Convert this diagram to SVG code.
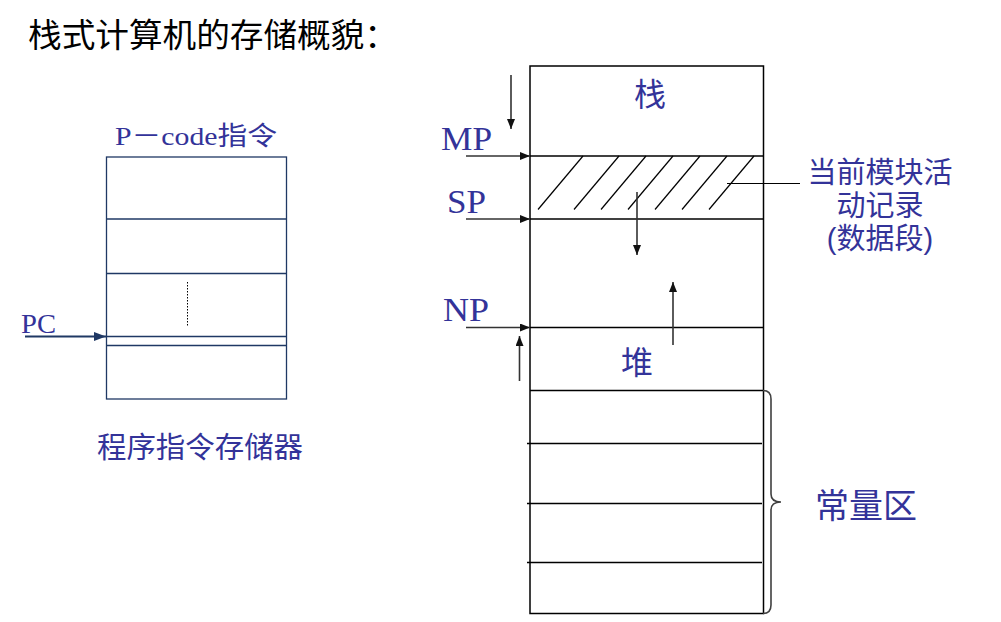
<svg xmlns="http://www.w3.org/2000/svg" width="1001" height="622" viewBox="0 0 1001 622">
<style>
.cjk{font-family:"Noto Sans CJK SC",sans-serif;fill:#333399}
.cjk2{font-family:"Liberation Sans","Noto Sans CJK SC",sans-serif;fill:#333399}
.lat{font-family:"Liberation Serif","Noto Sans CJK SC",serif;fill:#333399}
.title{font-family:"Noto Sans CJK SC",sans-serif;fill:#000;font-size:33px}
.box{fill:#fff;stroke:#000;stroke-width:1.5}
.lbox{fill:#fff;stroke:#1F3864;stroke-width:1.3}
.ln{stroke:#000;stroke-width:1.5;fill:none}
.lln{stroke:#1F3864;stroke-width:1.3;fill:none}
.hatch{stroke:#000;stroke-width:1.2}
.arr{stroke:#333;stroke-width:1.6;fill:none;marker-end:url(#ah)}
</style>
<defs>
<marker id="ah" markerUnits="userSpaceOnUse" markerWidth="10" markerHeight="8" refX="10" refY="4" orient="auto">
<path d="M0,0 L10,4 L0,8 z" fill="#111"/>
</marker>
<marker id="ahb" markerUnits="userSpaceOnUse" markerWidth="12" markerHeight="9" refX="12" refY="4.5" orient="auto">
<path d="M0,0 L12,4.5 L0,9 z" fill="#1F3864"/>
</marker>
</defs>
<rect width="1001" height="622" fill="#fff"/>

<g id="title">
<text class="title" x="28" y="47" textLength="370" lengthAdjust="spacingAndGlyphs">栈式计算机的存储概貌：</text>
</g>

<g id="pcode-memory">
<text class="lat" x="115" y="145" font-size="26" textLength="162" lengthAdjust="spacingAndGlyphs">P－code指令</text>
<rect class="lbox" x="106.5" y="157" width="180" height="242"/>
<line class="lln" x1="106.5" y1="219" x2="286.5" y2="219"/>
<line class="lln" x1="106.5" y1="273.5" x2="286.5" y2="273.5"/>
<line class="lln" x1="106.5" y1="336.5" x2="286.5" y2="336.5"/>
<line class="lln" x1="106.5" y1="345.5" x2="286.5" y2="345.5"/>
<line x1="187.5" y1="282" x2="187.5" y2="327" stroke="#000" stroke-width="1" stroke-dasharray="1.5,1.5"/>
<text class="cjk" x="97" y="458" font-size="29" textLength="206" lengthAdjust="spacingAndGlyphs">程序指令存储器</text>
</g>

<g id="pc-label">
<text class="lat" x="21" y="333" font-size="28" textLength="35" lengthAdjust="spacingAndGlyphs">PC</text>
</g>

<g id="stack-memory">
<rect class="box" x="530" y="66" width="233.5" height="547.5"/>
<line class="ln" x1="530" y1="156" x2="763.5" y2="156"/>
<line class="ln" x1="530" y1="219" x2="763.5" y2="219"/>
<line class="ln" x1="530" y1="327.5" x2="763.5" y2="327.5"/>
<line class="ln" x1="530" y1="390.5" x2="763.5" y2="390.5"/>
<line class="ln" x1="527" y1="443.5" x2="762" y2="443.5"/>
<line class="ln" x1="527" y1="503.5" x2="762" y2="503.5"/>
<line class="ln" x1="527" y1="562.5" x2="762" y2="562.5"/>
<g id="hatch">
<line class="hatch" x1="538" y1="209.5" x2="583" y2="156"/>
<line class="hatch" x1="574" y1="209.5" x2="619" y2="156"/>
<line class="hatch" x1="601" y1="209.5" x2="646" y2="156"/>
<line class="hatch" x1="628" y1="209.5" x2="673" y2="156"/>
<line class="hatch" x1="655" y1="209.5" x2="700" y2="156"/>
<line class="hatch" x1="682" y1="209.5" x2="727" y2="156"/>
<line class="hatch" x1="709" y1="209.5" x2="754" y2="156"/>
</g>
<text class="cjk" x="650" y="106" font-size="32" text-anchor="middle">栈</text>
<text class="cjk" x="637" y="374" font-size="32" text-anchor="middle">堆</text>
</g>

<g id="pointer-labels">
<text class="lat" x="441" y="150" font-size="34" textLength="51" lengthAdjust="spacingAndGlyphs">MP</text>
<text class="lat" x="447" y="213" font-size="34" textLength="39" lengthAdjust="spacingAndGlyphs">SP</text>
<text class="lat" x="443" y="321" font-size="34" textLength="46" lengthAdjust="spacingAndGlyphs">NP</text>
</g>

<g id="activation-record-label">
<text class="cjk2" x="880" y="183" font-size="29" text-anchor="middle">当前模块活</text>
<text class="cjk2" x="880" y="216" font-size="29" text-anchor="middle">动记录</text>
<text class="cjk2" x="880" y="249" font-size="29" text-anchor="middle">(数据段)</text>
</g>

<g id="constant-area">
<path d="M763,390.5 Q771,390.5 771,399 L771,494 Q771,502 781,502 Q771,502 771,510 L771,605 Q771,613.5 763,613.5" fill="none" stroke="#404040" stroke-width="1.6"/>
<text class="cjk" x="815" y="518" font-size="34" textLength="102" lengthAdjust="spacingAndGlyphs">常量区</text>
</g>

<g id="connectors">
<line x1="25" y1="336.5" x2="106" y2="336.5" stroke="#1F3864" stroke-width="2" marker-end="url(#ahb)"/>
<line class="arr" x1="466" y1="156" x2="530" y2="156"/>
<line class="arr" x1="466" y1="219" x2="530" y2="219"/>
<line class="arr" x1="466" y1="327.5" x2="530" y2="327.5"/>
<line class="arr" x1="511" y1="75" x2="511" y2="129"/>
<line class="arr" x1="519.5" y1="381" x2="519.5" y2="336"/>
<line class="arr" x1="637" y1="192" x2="637" y2="255"/>
<line class="arr" x1="673" y1="345" x2="673" y2="282"/>
<line x1="727" y1="183.5" x2="800" y2="183.5" stroke="#000" stroke-width="1.2"/>
</g>
</svg>
